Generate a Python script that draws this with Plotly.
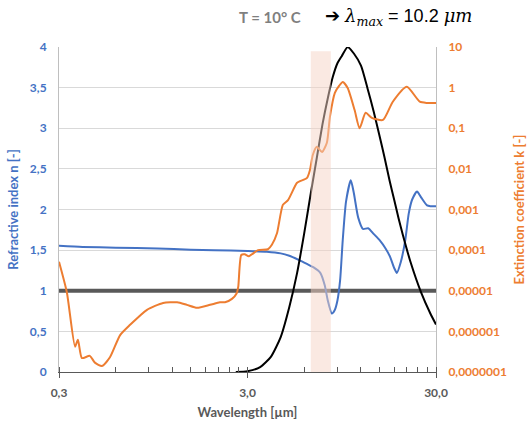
import plotly.graph_objects as go

# ---------------- data ----------------
wavelength_n = [0.3, 0.4, 0.6, 1.0, 1.5, 2.0, 3.0, 3.8, 4.5, 5.0, 5.6, 6.2, 6.7, 7.3, 7.7, 8.0,
                8.4, 8.7, 9.0, 9.3, 9.6, 10.0, 10.6, 11.0, 11.6, 12.3, 13.1, 14.0, 15.1, 16.2,
                17.1, 18.0, 18.6, 19.5, 20.6, 21.5, 22.4, 23.8, 25.0, 26.9, 28.0, 30.0]
n_values = [1.555, 1.54, 1.53, 1.52, 1.505, 1.50, 1.49, 1.48, 1.46, 1.43, 1.38, 1.33, 1.29, 1.22,
            1.07, 0.88, 0.72, 0.76, 0.88, 1.13, 1.62, 2.10, 2.36, 2.20, 1.90, 1.76, 1.77, 1.70,
            1.62, 1.52, 1.42, 1.28, 1.22, 1.35, 1.62, 1.95, 2.12, 2.22, 2.15, 2.05, 2.04, 2.04]

wavelength_k = [0.3, 0.33, 0.365, 0.378, 0.397, 0.437, 0.465, 0.507, 0.559, 0.633, 0.715, 0.879,
                1.07, 1.27, 1.43, 1.62, 1.90, 2.14, 2.28, 2.48, 2.63, 2.68, 2.78, 2.90, 3.05,
                3.41, 3.85, 4.04, 4.30, 4.62, 4.92, 5.48, 5.70, 6.19, 6.43, 6.66, 7.0, 7.45,
                7.91, 8.21, 8.72, 9.2, 9.61, 10.2, 11.1, 11.8, 12.7, 13.7, 15.7, 17.7, 21.0,
                24.6, 26.9, 30.0]
k_values = [5.2e-5, 9.3e-6, 4.2e-7, 6.2e-7, 2.2e-7, 2.5e-7, 1.7e-7, 1.4e-7, 2.3e-7, 8.1e-7,
            1.45e-6, 3.4e-6, 5.0e-6, 5.2e-6, 4.5e-6, 3.8e-6, 4.5e-6, 5.2e-6, 5.2e-6, 6.3e-6,
            8.7e-6, 1.26e-5, 7.6e-5, 7.9e-5, 7.1e-5, 1.0e-4, 1.05e-4, 1.35e-4, 2.6e-4, 1.3e-3,
            1.7e-3, 4.5e-3, 5.0e-3, 5.9e-3, 9.3e-3, 0.022, 0.035, 0.026, 0.044, 0.19, 0.74,
            1.12, 1.38, 0.98, 0.28, 0.10, 0.24, 0.18, 0.16, 0.45, 1.05, 0.45, 0.42, 0.42]

wavelength_bb = [2.6, 3.0, 3.5, 4.0, 4.5, 5.0, 5.5, 6.0, 6.5, 7.0, 7.5, 8.0, 8.5, 9.0, 9.5, 10.2,
                 11.0, 12.0, 13.0, 14.0, 15.0, 16.0, 17.0, 18.0, 19.0, 20.0, 22.0, 25.0, 28.0, 30.0]
bb_values = [0.0, 0.01, 0.06, 0.19, 0.43, 0.80, 1.22, 1.71, 2.20, 2.64, 3.05, 3.37, 3.63, 3.80,
             3.89, 4.0, 3.92, 3.77, 3.49, 3.21, 2.92, 2.64, 2.36, 2.12, 1.89, 1.69, 1.35, 0.98,
             0.72, 0.585]

ref_x = [0.3, 30.0]
ref_n = [1.0, 1.0]

shade_x = [6.5, 8.3, 8.3, 6.5, 6.5]
shade_k = [1e-7, 1e-7, 7.9, 7.9, 1e-7]

x_tickvals = [0.3, 0.6, 0.9, 1.2, 1.5, 1.8, 2.1, 2.4, 2.7, 3.0,
              6, 9, 12, 15, 18, 21, 24, 27, 30]
x_ticktext = ["0,3", "", "", "", "", "", "", "", "", "3,0",
              "", "", "", "", "", "", "", "", "30,0"]
k_tickvals = [1e-7, 1e-6, 1e-5, 1e-4, 1e-3, 1e-2, 1e-1, 1, 10]
k_ticktext = ["0,0000001", "0,000001", "0,00001", "0,0001", "0,001", "0,01", "0,1", "1", "10"]

BLUE = "#4472C4"
ORANGE = "#ED7D31"
GREY = "#595959"
FONT = "Lato"

fig = go.Figure()
fig.add_trace(go.Scatter(x=ref_x, y=ref_n, mode="lines", line=dict(color=GREY, width=4),
                         hoverinfo="skip", showlegend=False))
fig.add_trace(go.Scatter(x=wavelength_n, y=n_values, mode="lines",
                         line=dict(color=BLUE, width=2, shape="spline", smoothing=0.6),
                         showlegend=False))
fig.add_trace(go.Scatter(x=wavelength_bb, y=bb_values, mode="lines",
                         line=dict(color="black", width=2, shape="spline", smoothing=0.6),
                         showlegend=False))
fig.add_trace(go.Scatter(x=wavelength_k, y=k_values, mode="lines", yaxis="y2",
                         line=dict(color=ORANGE, width=2, shape="spline", smoothing=0.6),
                         showlegend=False))
fig.add_trace(go.Scatter(x=shade_x, y=shade_k, mode="lines", yaxis="y2", fill="toself",
                         fillcolor="rgba(246,212,197,0.5)", line=dict(width=0),
                         hoverinfo="skip", showlegend=False))

fig.update_layout(
    width=532, height=425,
    margin=dict(l=59, r=96, t=47, b=53, autoexpand=False),
    paper_bgcolor="white", plot_bgcolor="white",
    separators=",.",
    font=dict(family=FONT, size=12),
    xaxis=dict(
        type="log", range=[-0.5228787, 1.4771213],
        tickmode="array", tickvals=x_tickvals, ticktext=x_ticktext, tickangle=0,
        ticks="outside", ticklen=5, tickcolor=GREY, tickwidth=1,
        minor=dict(ticks="inside", ticklen=5, tickcolor=GREY, tickwidth=1,
                   tickvals=x_tickvals, showgrid=False),
        showline=True, linecolor=GREY, linewidth=1, automargin=False,
        showgrid=False, zeroline=False, ticklabelstandoff=5,
        tickfont=dict(family=FONT, size=12, color=GREY, weight="bold"),
        title=dict(text="Wavelength [µm]", standoff=8,
                   font=dict(family=FONT, size=13, color=GREY, weight="bold")),
    ),
    yaxis=dict(
        range=[0, 4], dtick=0.5, tick0=0, automargin=False,
        showgrid=True, gridcolor="#D9D9D9", gridwidth=1,
        showline=True, linecolor="#BFBFBF", linewidth=1,
        zeroline=False, ticks="", ticklabelstandoff=9,
        tickfont=dict(family=FONT, size=12, color=BLUE, weight="bold"),
        title=dict(text="Refractive index n [-]", standoff=8,
                   font=dict(family=FONT, size=13, color=BLUE, weight="bold")),
    ),
    yaxis2=dict(
        type="log", range=[-7, 1], overlaying="y", side="right", automargin=False,
        tickmode="array", tickvals=k_tickvals, ticktext=k_ticktext,
        showgrid=False, showline=True, linecolor="#BFBFBF", linewidth=1,
        zeroline=False, ticks="", ticklabelstandoff=9,
        tickfont=dict(family=FONT, size=12, color=ORANGE, weight="bold"),
        title=dict(text="Extinction coefficient k [-]", standoff=8,
                   font=dict(family=FONT, size=13, color=ORANGE, weight="bold")),
    ),
    annotations=[
        dict(xref="paper", yref="paper", x=(270 - 59) / 377, y=(372 - 17) / 325,
             xanchor="center", yanchor="middle", showarrow=False,
             text="<b>T = 10° C</b>", font=dict(family=FONT, size=15, color="#7F7F7F")),
        dict(xref="paper", yref="paper", x=(323 - 59) / 377, y=(372 - 17) / 325,
             xanchor="left", yanchor="middle", showarrow=False,
             text="<b><span style='font-family:DejaVu Sans'>➔</span></b> "
                  "<span style='font-family:DejaVu Serif'><i>λ<sub>max</sub></i></span>"
                  " = 10.2 <span style='font-family:DejaVu Serif'><i>μm</i></span>",
             font=dict(family="Liberation Sans", size=18, color="black")),
    ],
)

fig.write_html("out.html")
